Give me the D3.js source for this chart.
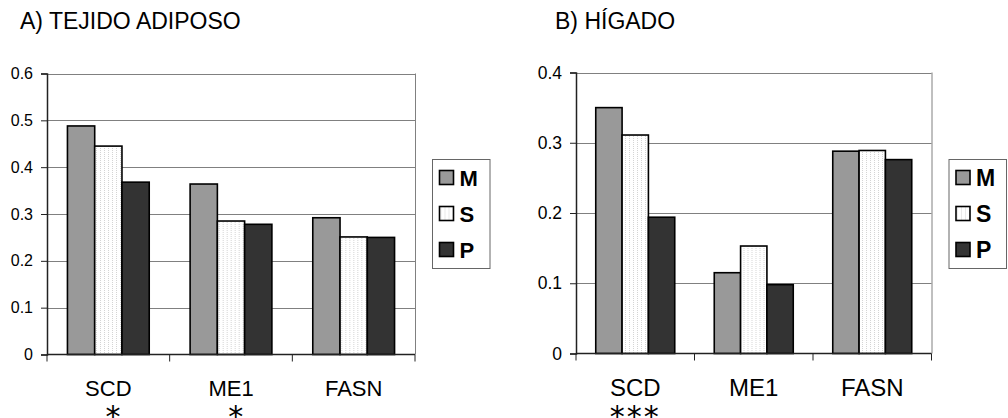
<!DOCTYPE html>
<html>
<head>
<meta charset="utf-8">
<script src="https://cdn.jsdelivr.net/npm/d3@7"></script>
<style>
  body { margin: 0; background: #fff; }
  svg { display: block; font-family: "Liberation Sans", Arial, sans-serif; }
</style>
</head>
<body>
<svg id="chart" width="1008" height="418"></svg>
<script>
var genes = ["SCD", "ME1", "FASN"]
var groups = ["M", "S", "P"]

// A) tejido adiposo
var adiposoM = [0.488, 0.364, 0.292]
var adiposoS = [0.445, 0.285, 0.251]
var adiposoP = [0.368, 0.278, 0.250]
var adiposoTicks = [0, 0.1, 0.2, 0.3, 0.4, 0.5, 0.6]
var adiposoStars = [" *", " *", ""]

// B) hígado
var higadoM = [0.350, 0.115, 0.288]
var higadoS = [0.311, 0.153, 0.289]
var higadoP = [0.194, 0.098, 0.276]
var higadoTicks = [0, 0.1, 0.2, 0.3, 0.4]
var higadoStars = ["***", "", ""]

var svg = d3.select("#chart")

var defs = svg.append("defs")
var pat = defs.append("pattern")
  .attr("id", "dots")
  .attr("patternUnits", "userSpaceOnUse")
  .attr("width", 4).attr("height", 2)
pat.append("rect").attr("width", 4).attr("height", 2).attr("fill", "#fff")
pat.append("rect").attr("x", 1).attr("width", 1).attr("height", 1).attr("fill", "#d4d4d4")

var fills = { M: "#999999", S: "url(#dots)", P: "#333333" }

function makeChart(c) {
  var g = svg.append("g")
  var x0 = d3.scaleBand().domain(genes).range([c.left, c.right])
  var x1 = d3.scaleBand().domain(groups).range([0, x0.bandwidth()]).paddingOuter(0.75)
  var y = d3.scaleLinear().domain([0, d3.max(c.ticks)]).range([c.bottom, c.top])

  g.append("text")
    .attr("x", c.titleX).attr("y", 29)
    .attr("font-size", 23)
    .text(c.title)

  // gridlines
  g.selectAll(".grid").data(c.ticks.slice(1)).enter().append("line")
    .attr("x1", c.left).attr("x2", c.right)
    .attr("y1", function(d) { return Math.round(y(d)) + 0.5 })
    .attr("y2", function(d) { return Math.round(y(d)) + 0.5 })
    .attr("stroke", "#808080").attr("stroke-width", 1)
  g.append("line")
    .attr("x1", c.right + 0.5).attr("x2", c.right + 0.5)
    .attr("y1", c.top).attr("y2", c.bottom)
    .attr("stroke", "#808080")

  var rows = genes.map(function(gene, i) {
    return { gene: gene, M: c.M[i], S: c.S[i], P: c.P[i] }
  })
  g.selectAll(".grp").data(rows).enter().append("g")
    .attr("transform", function(d) { return "translate(" + x0(d.gene) + ",0)" })
    .selectAll("rect")
    .data(function(d) { return groups.map(function(k) { return { key: k, value: d[k] } }) })
    .enter().append("rect")
    .attr("x", function(d) { return x1(d.key) })
    .attr("y", function(d) { return y(d.value) })
    .attr("width", x1.bandwidth())
    .attr("height", function(d) { return c.bottom - y(d.value) })
    .attr("fill", function(d) { return fills[d.key] })
    .attr("stroke", "#000").attr("stroke-width", 1.6)

  // y axis
  var yAxis = g.append("g")
    .attr("transform", "translate(" + c.left + ",0)")
    .call(d3.axisLeft(y).tickValues(c.ticks).tickSize(6).tickPadding(8)
      .tickFormat(function(d) { return d === 0 ? "0" : d3.format(".1f")(d) }))
  yAxis.select(".domain").attr("stroke", "#222").attr("stroke-width", 1.5)
  yAxis.selectAll(".tick line").attr("stroke", "#222")
  yAxis.selectAll("text").attr("font-size", c.tickSize).attr("fill", "#000")
    .attr("font-family", "Liberation Sans, Arial, sans-serif")

  // x axis with boundary ticks
  var xAxis = g.append("g")
  xAxis.append("line")
    .attr("x1", c.left).attr("x2", c.right)
    .attr("y1", c.bottom).attr("y2", c.bottom)
    .attr("stroke", "#222").attr("stroke-width", 1.5)
  var bounds = genes.map(function(d) { return x0(d) }).concat([c.right])
  xAxis.selectAll(".bt").data(bounds).enter().append("line")
    .attr("x1", function(d) { return d }).attr("x2", function(d) { return d })
    .attr("y1", c.bottom).attr("y2", c.bottom + 7)
    .attr("stroke", "#222")
  xAxis.selectAll(".lbl").data(genes).enter().append("text")
    .attr("x", function(d) { return x0(d) + x0.bandwidth() / 2 })
    .attr("y", 396)
    .attr("text-anchor", "middle")
    .attr("font-size", c.labelSize)
    .text(function(d) { return d })
  xAxis.selectAll(".star").data(c.stars).enter().append("text")
    .attr("x", function(d, i) { return x0(genes[i]) + x0.bandwidth() / 2 })
    .attr("y", 427)
    .attr("text-anchor", "middle")
    .attr("font-family", "DejaVu Sans")
    .attr("font-size", 30)
    .attr("letter-spacing", 2)
    .style("white-space", "pre")
    .text(function(d) { return d })

  // legend
  var lx = c.right + 17.5
  var leg = g.append("g").attr("transform", "translate(" + lx + ",159.5)")
  leg.append("rect").attr("width", 57.5).attr("height", 109)
    .attr("fill", "#fff").attr("stroke", "#666")
  leg.selectAll(".li").data(groups).enter().append("g")
    .attr("transform", function(d, i) { return "translate(7," + (11 + i * 36) + ")" })
    .each(function(d) {
      var it = d3.select(this)
      it.append("rect").attr("width", 14).attr("height", 14)
        .attr("fill", fills[d]).attr("stroke", "#000").attr("stroke-width", 1.6)
      it.append("text").attr("x", 20).attr("y", 15)
        .attr("font-size", c.legendSize).attr("font-weight", "bold")
        .text(d)
    })
}

makeChart({
  title: "A) TEJIDO ADIPOSO", titleX: 20,
  left: 47, right: 415, top: 73.5, bottom: 354.5,
  M: adiposoM, S: adiposoS, P: adiposoP,
  ticks: adiposoTicks, stars: adiposoStars,
  tickSize: 16, labelSize: 22, legendSize: 22
})
makeChart({
  title: "B) HÍGADO", titleX: 555,
  left: 576, right: 931.5, top: 72.5, bottom: 353.5,
  M: higadoM, S: higadoS, P: higadoP,
  ticks: higadoTicks, stars: higadoStars,
  tickSize: 17.5, labelSize: 24, legendSize: 23
})
</script>
</body>
</html>
